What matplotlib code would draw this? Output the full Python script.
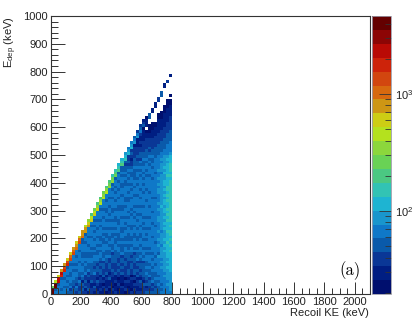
import numpy as np
import matplotlib
matplotlib.use("Agg")
import matplotlib.pyplot as plt
from matplotlib.colors import ListedColormap, LogNorm
from matplotlib.ticker import FixedLocator, NullFormatter, FuncFormatter

plt.rcParams["font.family"] = ["Liberation Sans", "DejaVu Sans"]
plt.rcParams["mathtext.fontset"] = "custom"
plt.rcParams["mathtext.rm"] = "Liberation Sans"
plt.rcParams["mathtext.default"] = "regular"

# palette bands of the colour bar, bottom to top
band_colors = [
    (0, 15, 110), (0, 30, 130), (10, 55, 150), (10, 90, 170), (15, 120, 200),
    (25, 150, 205), (30, 180, 210), (50, 195, 180), (75, 200, 130), (105, 210, 85),
    (140, 215, 60), (180, 225, 30), (205, 205, 20), (205, 150, 20), (215, 105, 15),
    (210, 70, 15), (205, 35, 10), (185, 10, 5), (140, 5, 5), (100, 0, 0),
]
z_min = 19.6
z_max = 4640.0

x_bin = 20
y_bin = 10

# one string per 20 keV column, one char per 10 keV row going up (spaces ignored)
# char = colour band (0-9, a-j), "." = empty bin
columns = [
    "jj9",
    "43jjb",
    "4443hhc",
    "434443ghd",
    "44344344 gfd",
    "3434343443 gfc",
    "3243443344 34 fec",
    "3323344434 3444 fed",
    "2342334434 344344 edc",
    "3223423344 43444344 fec",
    "2323134344 3443344433 edd",
    "2132322433 4343344434 43 ddb",
    "1322123243 3443344344 3444 dca",
    "2211322333 3443343444 344434 cb8",
    "1231222432 3344343443 44343434 cb9",
    "2112312233 2344334344 3443443444 ca8",
    "1211221332 3234434343 3444343444 34 ba8",
    "1120213223 3243344433 4343444344 3444 ba9",
    "0211121322 2334334434 3343443443 344344 ba8",
    "1021132123 3224334343 3443443434 43443444 a98",
    "1201112232 2333243344 3343443443 3444344343 a97",
    "2110211322 2333334433 4343443344 3443443434 43 987",
    "1012102232 3223344343 3344433444 3344344344 3443 876",
    "1120111323 2332433343 4433444344 3344434433 443433 876",
    "0211202222 3323344343 3443434344 4343344443 34343323 765",
    "1101212332 2233343343 3344344343 4443343443 4343432322 654",
    "2011120223 3232344343 3443344434 3444344343 4433432212 32 654",
    "1212021332 2333243444 3344344343 4344434434 4333343332 2221 543",
    "2112213232 3243343443 3443443434 4344434443 4344343323 222111 542",
    "2122312323 3234344344 3344344434 4344344344 4434343423 32212112 432",
    "2223123333 3243443443 4443434344 4344443443 4343443343 3222211110 321",
    "3213233434 3344343443 4343444344 4443444344 4434344343 332222110. 1110",
    "3223324334 3444343444 4443444344 4344443444 4434443434 3232221100 0..33",
    "3232433343 4434344444 3444434443 4444344444 4344434334 3322221110 00...11",
    "3323343344 3443444434 4444344444 4444344444 4443444443 3332222111 00.....11",
    "3334343444 4445344545 4454445544 5454445545 4544544444 3333222211 11100....2 2",
    "4343444445 4545555455 5545555555 5655555555 5554555454 4333322221 111000.... .33",
    "4444445455 5555565656 5556565656 6566565656 6556565555 4433332222 11111000.. ....11",
    "4445455556 5656666676 6676667676 7667676776 6676666565 4444333322 2211111000 ......2",
    "4555555566 6666676767 6776767777 7777777777 7676777666 5444433332 2222111100 .0......1",
]

x_ticks = [0, 200, 400, 600, 800, 1000, 1200, 1400, 1600, 1800, 2000]
y_ticks = [0, 100, 200, 300, 400, 500, 600, 700, 800, 900, 1000]
cbar_major = [100, 1000]
cbar_minor = [20, 30, 40, 50, 60, 70, 80, 90, 200, 300, 400, 500, 600, 700, 800, 900, 2000, 3000, 4000]

# band char -> a count in the middle of that band
band_chars = "0123456789abcdefghij"
log_step = (np.log10(z_max) - np.log10(z_min)) / len(band_chars)
columns = [c.replace(" ", "") for c in columns]
n_rows = max(len(c) for c in columns)
counts = np.full((n_rows, len(columns)), np.nan)
for i, col in enumerate(columns):
    for j, ch in enumerate(col):
        if ch != ".":
            counts[j, i] = 10 ** (np.log10(z_min) + (band_chars.index(ch) + 0.5) * log_step)

x_edges = np.arange(len(columns) + 1) * x_bin
y_edges = np.arange(n_rows + 1) * y_bin

W, H = 420, 327
fig = plt.figure(figsize=(W / 100, H / 100), dpi=100)
ax = fig.add_axes([50.5 / W, (H - 294) / H, 319.5 / W, 278 / H])
cax = fig.add_axes([372 / W, (H - 294) / H, 19 / W, 278 / H])

cmap = ListedColormap([(r / 255, g / 255, b / 255) for r, g, b in band_colors])
norm = LogNorm(vmin=z_min, vmax=z_max)
mesh = ax.pcolormesh(x_edges, y_edges, np.ma.masked_invalid(counts), cmap=cmap, norm=norm,
                     linewidth=0, antialiased=False)

ax.set_xlim(0, 2100)
ax.set_ylim(0, 1000)
ax.set_xticks(x_ticks)
ax.set_yticks(y_ticks)
ax.xaxis.set_minor_locator(FixedLocator(np.arange(0, 2100, 50)))
ax.yaxis.set_minor_locator(FixedLocator(np.arange(0, 1001, 20)))
ax.tick_params(which="major", direction="in", length=9, width=0.7, color="#333333",
               labelsize=8, labelcolor="#222222", pad=2)
ax.tick_params(which="minor", direction="in", length=4.5, width=0.7, color="#333333")
ax.tick_params(axis="y", which="major", length=10)
ax.tick_params(axis="y", which="minor", length=5)
for s in ax.spines.values():
    s.set_linewidth(0.8)
    s.set_color("#333333")

fig.text(369 / W, (H - 313) / H, "Recoil KE (keV)", ha="right", va="center", fontsize=8, color="#222222")
fig.text(11 / W, (H - 16) / H, "E$_{dep}$ (keV)", ha="center", va="top", rotation=90, fontsize=8, color="#222222")
ax.text(1900, 85, "(a)", family=["cmr10", "DejaVu Serif"], fontsize=12,
        ha="left", va="center", color="black")

cbar = fig.colorbar(mesh, cax=cax)
cbar.outline.set_linewidth(0.6)
cbar.outline.set_edgecolor("#9a9aa8")
cax.yaxis.set_major_locator(FixedLocator(cbar_major))
cax.yaxis.set_minor_locator(FixedLocator(cbar_minor))
cax.yaxis.set_major_formatter(FuncFormatter(lambda v, p: "$10^{%d}$" % round(np.log10(v))))
cax.yaxis.set_minor_formatter(NullFormatter())
cax.tick_params(which="major", direction="in", length=9, width=0.6, color="#333333",
                labelsize=8, labelcolor="#222222", pad=3)
cax.tick_params(which="minor", direction="in", length=4.5, width=0.6, color="#333333")

fig.savefig("out.png", dpi=100)
